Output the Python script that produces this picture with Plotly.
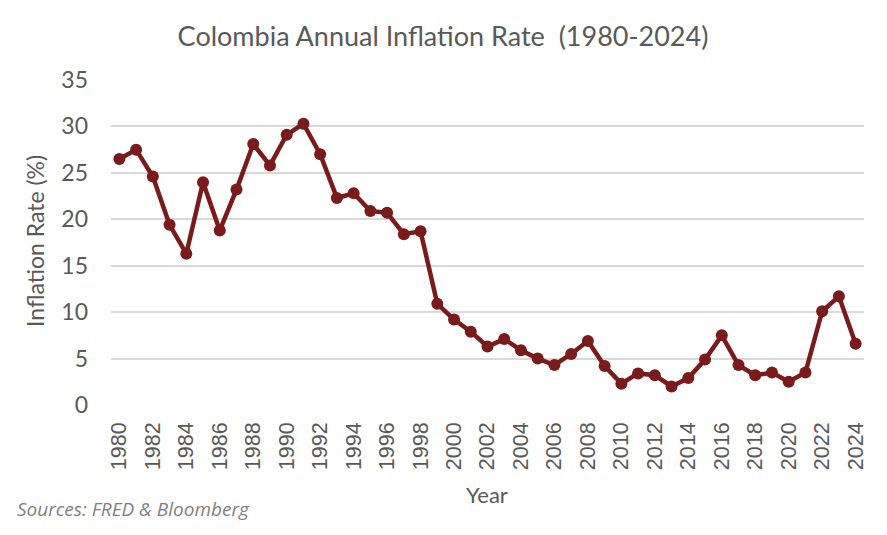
import plotly.graph_objects as go

years = list(range(1980, 2025))
inflation = [
    26.5, 27.5, 24.6, 19.4, 16.3, 24.0, 18.8, 23.2, 28.1, 25.8,
    29.1, 30.3, 27.0, 22.3, 22.8, 20.9, 20.7, 18.4, 18.7, 10.9,
    9.2, 7.9, 6.3, 7.1, 5.9, 5.0, 4.3, 5.5, 6.9, 4.2,
    2.3, 3.4, 3.2, 2.0, 2.9, 4.9, 7.5, 4.3, 3.2, 3.5,
    2.5, 3.5, 10.1, 11.7, 6.6,
]
y_ticks = [0, 5, 10, 15, 20, 25, 30, 35]
x_ticks = list(range(1980, 2025, 2))

line_color = "#7a1a1a"
text_grey = "#595959"

# the page puts the figure 8px in from the top left, so margins allow for that
W, H = 887, 535
OFF = 8
ML, MR, MT, MB = 111 - OFF, 23 + OFF, 80 - OFF, 130 + OFF
PW, PH = W - ML - MR, H - MT - MB


def px(x):
    return (x - OFF - ML) / PW


def py(y):
    return (H - MB - (y - OFF)) / PH


fig = go.Figure()
fig.add_trace(go.Scatter(
    x=years,
    y=inflation,
    mode="lines+markers",
    line=dict(color=line_color, width=4.5),
    marker=dict(color=line_color, size=12),
    showlegend=False,
))

fig.update_layout(
    width=W,
    height=H,
    paper_bgcolor="white",
    plot_bgcolor="white",
    margin=dict(l=ML, r=MR, t=MT, b=MB),
    title=dict(
        text="Colombia Annual Inflation Rate \u00a0(1980-2024)",
        x=(443 - OFF) / W, xref="container", xanchor="center",
        y=1 - (37 - OFF) / H, yref="container", yanchor="middle",
        font=dict(family="Lato", size=27, color=text_grey),
    ),
    xaxis=dict(
        range=[1979.5, 2024.5],
        tickmode="array",
        tickvals=x_ticks,
        ticktext=[str(v) for v in x_ticks],
        tickangle=-90,
        tickfont=dict(family="Liberation Sans", size=21.5, color=text_grey),
        showgrid=False,
        zeroline=False,
        showline=False,
        ticks="",
        ticklabelstandoff=12,
        automargin=False,
    ),
    yaxis=dict(
        range=[0, 35],
        tickmode="array",
        tickvals=y_ticks,
        tickfont=dict(family="Lato", size=23, color=text_grey),
        showgrid=True,
        gridcolor="#d9d9d9",
        gridwidth=1.5,
        zeroline=False,
        showline=False,
        ticks="",
        ticklabelstandoff=22,
        automargin=False,
    ),
    annotations=[
        dict(
            text="Inflation Rate (%)", textangle=-90,
            x=px(35), y=py(241), xref="paper", yref="paper",
            xanchor="center", yanchor="middle", showarrow=False,
            font=dict(family="Lato", size=23, color=text_grey),
        ),
        dict(
            text="Year",
            x=px(487), y=py(494), xref="paper", yref="paper",
            xanchor="center", yanchor="middle", showarrow=False,
            font=dict(family="Lato", size=22, color=text_grey),
        ),
        dict(
            text="Sources: FRED & Bloomberg",
            x=px(15), y=py(509), xref="paper", yref="paper",
            xanchor="left", yanchor="middle", showarrow=False,
            font=dict(family="Open Sans", size=19, color="#7f7f7f", style="italic"),
        ),
    ],
)

fig.write_html("out.html")
